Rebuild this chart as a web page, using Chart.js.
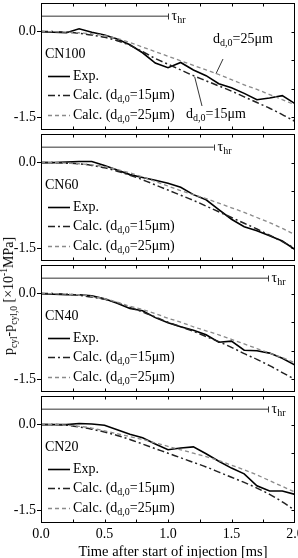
<!DOCTYPE html>
<html><head><meta charset="utf-8">
<script src="https://cdn.jsdelivr.net/npm/chart.js@4"></script>
<style>
html,body{margin:0;padding:0;background:#fff;}
body{width:298px;height:558px;position:relative;overflow:hidden;font-family:"Liberation Serif","Times New Roman",serif;}
canvas{position:absolute;left:0;}
#yt{position:absolute;left:9px;top:296px;transform:translate(-50%,-50%) rotate(-90deg);white-space:nowrap;font-size:14px;color:#000;line-height:1;}
#yt sub,#yt sup{font-size:9.5px;line-height:0;}
#xt{position:absolute;left:173px;top:551px;transform:translate(-50%,-50%);white-space:nowrap;font-size:14.5px;color:#000;line-height:1;}
</style></head>
<body>
<canvas id="c0" width="298" height="131" style="top:1px;width:298px;height:131px"></canvas>
<canvas id="c1" width="298" height="131" style="top:132px;width:298px;height:131px"></canvas>
<canvas id="c2" width="298" height="131" style="top:263px;width:298px;height:131px"></canvas>
<canvas id="c3" width="298" height="164" style="top:394px;width:298px;height:164px"></canvas>
<div id="yt">p<sub>cyl</sub>-p<sub>cyl,0</sub> [×10<sup>-1</sup>MPa]</div>
<div id="xt">Time after start of injection [ms]</div>
<script>
const time = [0,0.1,0.2,0.3,0.4,0.5,0.6,0.7,0.8,0.9,1.0,1.1,1.2,1.3,1.4,1.5,1.6,1.7,1.8,1.9,2.0];
const panelNames = ['CN100','CN60','CN40','CN20'];

const expCN100 = [0,-0.01,-0.02,0.05,-0.01,-0.06,-0.13,-0.23,-0.37,-0.55,-0.63,-0.54,-0.67,-0.77,-0.91,-0.98,-1.08,-1.19,-1.16,-1.12,-1.26];
const calc15CN100 = [0,0,-0.01,-0.03,-0.06,-0.10,-0.16,-0.24,-0.35,-0.47,-0.57,-0.67,-0.77,-0.86,-0.95,-1.04,-1.14,-1.24,-1.34,-1.45,-1.57];
const calc25CN100 = [0,0,-0.01,-0.02,-0.04,-0.07,-0.12,-0.19,-0.27,-0.35,-0.43,-0.51,-0.59,-0.67,-0.75,-0.84,-0.93,-1.01,-1.10,-1.19,-1.28];

const expCN60 = [0,0,0.01,0.02,0.02,-0.05,-0.13,-0.21,-0.26,-0.31,-0.36,-0.43,-0.56,-0.65,-0.82,-0.99,-1.12,-1.19,-1.28,-1.37,-1.52];
const calc15CN60 = [0,0,-0.01,-0.02,-0.05,-0.09,-0.15,-0.22,-0.30,-0.39,-0.48,-0.57,-0.66,-0.76,-0.86,-0.96,-1.06,-1.16,-1.27,-1.38,-1.50];
const calc25CN60 = [0,0,-0.01,-0.02,-0.04,-0.07,-0.12,-0.18,-0.25,-0.33,-0.41,-0.49,-0.56,-0.63,-0.71,-0.79,-0.87,-0.96,-1.05,-1.15,-1.26];

const expCN40 = [0,-0.01,-0.02,-0.02,-0.04,-0.09,-0.17,-0.26,-0.30,-0.42,-0.51,-0.58,-0.64,-0.72,-0.85,-0.83,-0.99,-1.00,-1.04,-1.13,-1.25];
const calc15CN40 = [0,0,-0.01,-0.03,-0.06,-0.10,-0.16,-0.24,-0.32,-0.41,-0.50,-0.58,-0.66,-0.75,-0.84,-0.94,-1.05,-1.15,-1.26,-1.38,-1.50];
const calc25CN40 = [0,0,-0.01,-0.02,-0.05,-0.09,-0.15,-0.22,-0.28,-0.35,-0.43,-0.50,-0.58,-0.65,-0.72,-0.80,-0.88,-0.96,-1.04,-1.12,-1.21];

const expCN20 = [0,0,0,0.02,0.01,-0.01,-0.09,-0.17,-0.23,-0.34,-0.44,-0.41,-0.39,-0.51,-0.64,-0.76,-0.86,-1.07,-1.16,-1.16,-1.22];
const calc15CN20 = [0,0,-0.01,-0.04,-0.08,-0.13,-0.19,-0.26,-0.34,-0.42,-0.50,-0.58,-0.66,-0.74,-0.83,-0.92,-1.01,-1.11,-1.22,-1.35,-1.50];
const calc25CN20 = [0,0,-0.01,-0.03,-0.06,-0.11,-0.16,-0.21,-0.26,-0.32,-0.38,-0.44,-0.50,-0.56,-0.63,-0.71,-0.79,-0.88,-0.98,-1.08,-1.18];

const tauEnd = [1.0,1.36,1.79,1.79];
const tauLevel = 0.27;
const xTickLabels = [0,0.5,1.0,1.5,2.0];
const xMinorTicks = [0.25,0.5,0.75,1.0,1.25,1.5,1.75];
const yTickLabels = [0,-1.5];
const yRightTicks = [0,-0.5,-1.0,-1.5];
const legendLabels = ['Exp.','Calc. (d|d,0|=15μm)','Calc. (d|d,0|=25μm)'];
const annoLabels = ['d|d,0|=25μm','d|d,0|=15μm'];

const exps = [expCN100,expCN60,expCN40,expCN20];
const c15s = [calc15CN100,calc15CN60,calc15CN40,calc15CN20];
const c25s = [calc25CN100,calc25CN60,calc25CN40,calc25CN20];

const FONT = '"Liberation Serif","Times New Roman",serif';
const zip = (xs, ys) => xs.map((v,k)=>({x:v,y:ys[k]}));

function rich(ctx, x, y, str, size){
  const parts = str.split('|');
  parts.forEach((t,k)=>{
    const sub = k%2===1;
    const s = sub ? Math.round(size*0.68) : size;
    ctx.font = s+'px '+FONT;
    ctx.fillText(t, x, y + (sub?4:0));
    x += ctx.measureText(t).width;
  });
  return x;
}

const styles = {
  exp:{color:'#000', width:1.6, dash:[]},
  c15:{color:'#222', width:1.5, dash:[7,3,2,3]},
  c25:{color:'#8a8a8a', width:1.3, dash:[4,3]}
};

const decor = {
  id:'decor',
  afterDatasetsDraw(chart, args, opts){
    const i = opts.index;
    const {ctx, chartArea:a, scales:{x,y}} = chart;
    ctx.save();
    ctx.strokeStyle='#000'; ctx.lineWidth=1; ctx.setLineDash([]);
    const L=Math.round(a.left)+0.5, R=Math.round(a.right)-0.5, T=Math.round(a.top)+0.5, B=Math.round(a.bottom)-0.5;
    ctx.strokeRect(L,T,R-L,B-T);
    ctx.beginPath();
    for (const v of xMinorTicks){
      const px=Math.round(x.getPixelForValue(v))+0.5;
      ctx.moveTo(px,T); ctx.lineTo(px,T+3);
      ctx.moveTo(px,B); ctx.lineTo(px,B-3);
    }
    for (const v of yRightTicks){
      const py=Math.round(y.getPixelForValue(v))+0.5;
      ctx.moveTo(R,py); ctx.lineTo(R-3,py);
    }
    ctx.stroke();
    const tx=Math.round(x.getPixelForValue(tauEnd[i]))+0.5, ty=Math.round(y.getPixelForValue(tauLevel))+0.5;
    ctx.strokeStyle='#333';
    ctx.beginPath(); ctx.moveTo(tx,ty-3); ctx.lineTo(tx,ty+3); ctx.stroke();
    ctx.fillStyle='#000'; ctx.textBaseline='middle'; ctx.textAlign='left';
    rich(ctx, tx+3, ty, 'τ|hr', 14);
    ctx.font='14px '+FONT;
    ctx.fillText(panelNames[i], 45, a.top+51);
    const rows=[a.top+73,a.top+92,a.top+112];
    const st=[styles.exp,styles.c15,styles.c25];
    rows.forEach((ry,k)=>{
      ctx.strokeStyle=st[k].color; ctx.lineWidth=st[k].width; ctx.setLineDash(st[k].dash);
      ctx.beginPath(); ctx.moveTo(48,ry+0.5); ctx.lineTo(70,ry+0.5); ctx.stroke();
      ctx.setLineDash([]);
      ctx.fillStyle='#000';
      rich(ctx, 73, ry, legendLabels[k], 14);
    });
    if (i===0){
      ctx.fillStyle='#000';
      rich(ctx, 213, a.top+36, annoLabels[0], 14);
      rich(ctx, 186, a.top+111, annoLabels[1], 14);
      ctx.strokeStyle='#000'; ctx.lineWidth=0.8; ctx.setLineDash([]);
      ctx.beginPath();
      ctx.moveTo(223, a.top+56); ctx.lineTo(x.getPixelForValue(1.378), y.getPixelForValue(-0.735));
      ctx.moveTo(202, a.top+103); ctx.lineTo(x.getPixelForValue(1.21), y.getPixelForValue(-0.79));
      ctx.stroke();
    }
    ctx.restore();
  }
};

for (let i=0;i<4;i++){
  const last = i===3;
  new Chart(document.getElementById('c'+i), {
    type:'line',
    data:{datasets:[
      {label:'tau', data:[{x:0,y:tauLevel},{x:tauEnd[i],y:tauLevel}], borderColor:'#333', borderWidth:1, pointRadius:0},
      {label:'Calc25', data:zip(time,c25s[i]), borderColor:styles.c25.color, borderWidth:styles.c25.width, borderDash:styles.c25.dash, pointRadius:0, cubicInterpolationMode:'monotone'},
      {label:'Calc15', data:zip(time,c15s[i]), borderColor:styles.c15.color, borderWidth:styles.c15.width, borderDash:styles.c15.dash, pointRadius:0, cubicInterpolationMode:'monotone'},
      {label:'Exp', data:zip(time,exps[i]), borderColor:styles.exp.color, borderWidth:styles.exp.width, pointRadius:0, tension:0}
    ]},
    options:{
      responsive:false, animation:false, devicePixelRatio:1,
      layout:{padding:{left:0,right:3,top:2,bottom:last?0:2}},
      plugins:{legend:{display:false}, tooltip:{enabled:false}, decor:{index:i}},
      scales:{
        x:{type:'linear', min:0, max:2, display:last, position:'bottom',
          afterBuildTicks:s=>{s.ticks=xTickLabels.map(v=>({value:v}));},
          ticks:{callback:v=>Number(v).toFixed(1), color:'#000', font:{family:FONT,size:14}, padding:3, maxRotation:0, autoSkip:false},
          grid:{display:false, drawTicks:false}, border:{display:false},
          title:{display:false},
          afterFit:s=>{ if (last) s.height=35; else s.height=0; s.paddingLeft=0; s.paddingRight=0;}
        },
        y:{type:'linear', min:-1.72, max:0.5,
          afterBuildTicks:s=>{s.ticks=yTickLabels.map(v=>({value:v}));},
          ticks:{callback:v=>Number(v).toFixed(1), color:'#000', font:{family:FONT,size:14}, padding:1, autoSkip:false},
          grid:{drawOnChartArea:false, drawTicks:true, tickLength:4, color:'#000', lineWidth:1},
          border:{display:false},
          afterFit:s=>{s.width=41; s.paddingTop=0; s.paddingBottom=0;}
        }
      }
    },
    plugins:[decor]
  });
}
</script>
</body></html>
